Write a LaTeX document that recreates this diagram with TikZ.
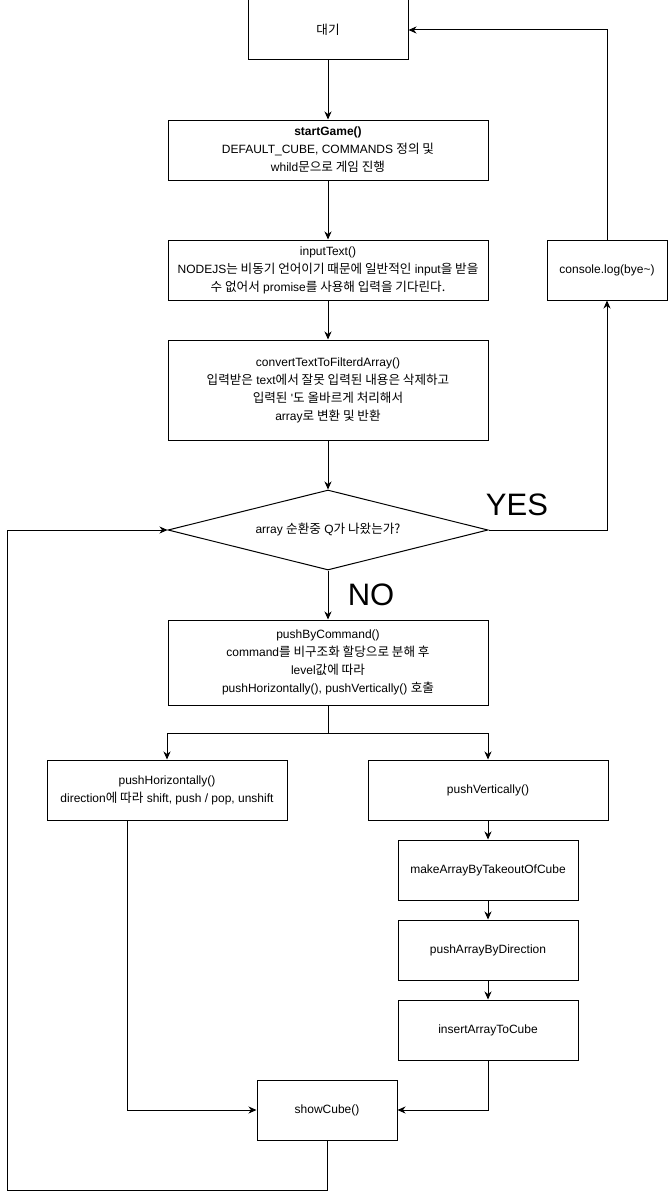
\documentclass[tikz,border=0pt]{standalone}
\usepackage{fontspec}
\setmainfont{Liberation Sans}
\newfontfamily\krfont[Scale=1.05]{Noto Sans CJK KR}
\newcommand\kr[1]{{\krfont #1}}
\usetikzlibrary{shapes.geometric,arrows.meta}

\tikzset{
    box/.style={draw, line width=1pt, align=center, inner sep=2pt,
        font=\fontsize{12}{18}\selectfont},
    flow/.style={line width=1pt, -{Stealth[length=8pt,width=7pt,inset=2.5pt]}},
    answer/.style={font=\fontsize{31}{31}\selectfont}
}

\begin{document}
\begin{tikzpicture}[x=1pt, y=-1pt]
    \useasboundingbox (0, 0) rectangle (668, 1199);

    % Main column
    \node [box, minimum width=160, minimum height=60] (wait) at (328, 30) {\kr{대기}};
    \node [box, minimum width=320, minimum height=60] (start) at (328, 150)
        {\textbf{startGame()}\\DEFAULT\_CUBE, COMMANDS \kr{정의 및}\\whild\kr{문으로 게임 진행}};
    \node [box, minimum width=320, minimum height=60] (input) at (328, 270)
        {inputText()\\NODEJS\kr{는 비동기 언어이기 때문에 일반적인} input\kr{을 받을}\\\kr{수 없어서} promise\kr{를 사용해 입력을 기다린다.}};
    \node [box, minimum width=320, minimum height=100] (convert) at (328, 390)
        {convertTextToFilterdArray()\\\kr{입력받은} text\kr{에서 잘못 입력된 내용은 삭제하고}\\\kr{입력된} \textquotesingle\kr{도 올바르게 처리해서}\\array\kr{로 변환 및 반환}};
    \node [box, diamond, shape aspect=4, minimum width=320, minimum height=80, inner sep=0pt] (cond) at (328, 530)
        {array \kr{순환중} Q\kr{가 나왔는가?}};
    \node [box, minimum width=120, minimum height=60] (bye) at (607, 270) {console.log(bye\textasciitilde)};
    \node [box, minimum width=320, minimum height=85] (push) at (328, 662.5)
        {pushByCommand()\\command\kr{를 비구조화 할당으로 분해 후}\\level\kr{값에 따라}\\pushHorizontally(), pushVertically() \kr{호출}};

    % YES / NO labels
    \node [answer] (yes) at (517, 505) {YES};
    \node [answer] (no) at (371, 595) {NO};

    % Two branches
    \node [box, minimum width=240, minimum height=60] (horiz) at (167, 790)
        {pushHorizontally()\\direction\kr{에 따라} shift, push / pop, unshift};
    \node [box, minimum width=240, minimum height=60] (vert) at (488, 790) {pushVertically()};
    \node [box, minimum width=180, minimum height=60] (make) at (488, 870) {makeArrayByTakeoutOfCube};
    \node [box, minimum width=180, minimum height=60] (dir) at (488, 950) {pushArrayByDirection};
    \node [box, minimum width=180, minimum height=60] (insert) at (488, 1030) {insertArrayToCube};
    \node [box, minimum width=140, minimum height=60] (show) at (327, 1110) {showCube()};

    \coordinate (split) at (328, 733);
    \coordinate (loop) at (7, 1190);

    % Connectors
    \draw [flow] (wait) -- (start);
    \draw [flow] (start) -- (input);
    \draw [flow] (input) -- (convert);
    \draw [flow] (convert) -- (cond);
    \draw [flow] (cond.east) -| (bye.south);
    \draw [flow] (bye.north) |- (wait.east);
    \draw [flow] (cond.south) -- (push.north);
    \draw [flow] (push.south) -- (split) -| (horiz.north);
    \draw [flow] (split) -| (vert.north);
    \draw [flow] (vert) -- (make);
    \draw [flow] (make) -- (dir);
    \draw [flow] (dir) -- (insert);
    \draw [flow] ([xshift=-40pt]horiz.south) |- (show.west);
    \draw [flow] (insert.south) |- (show.east);
    \draw [flow] (show.south) |- (loop) |- (cond.west);
\end{tikzpicture}
\end{document}
